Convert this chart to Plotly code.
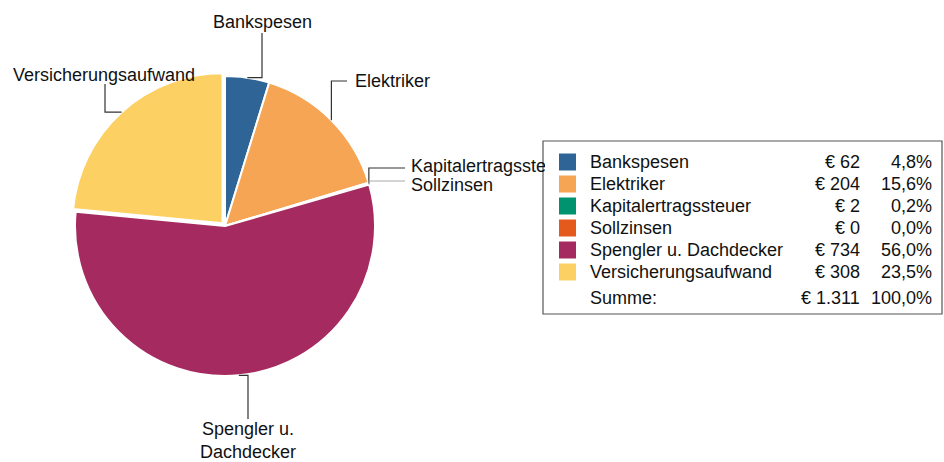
import math
import plotly.graph_objects as go

# ---------------- data ----------------
categories = ["Bankspesen", "Elektriker", "Kapitalertragssteuer", "Sollzinsen",
              "Spengler u. Dachdecker", "Versicherungsaufwand"]
pie_labels = ["Bankspesen", "Elektriker", "Kapitalertragssteuer", "Sollzinsen",
              "Spengler u.<br>Dachdecker", "Versicherungsaufwand"]
amounts = [62.4, 204.3, 2.3, 0.4, 733.9, 307.9]
colors = ["#2F6497", "#F5A553", "#00936F", "#E45A1C", "#A52A60", "#FDD063"]
pulls = [0, 0, 0, 0, 0, 0.025]

# ---------------- layout constants (pixels) ----------------
W, H = 944, 462
CX, CY, R = 225, 226, 150
FONT = "Liberation Sans, Arial, sans-serif"
FS = 18

def px(x):
    return x / W

def py(y):
    return 1 - y / H

total = sum(amounts)

def de_num(v, dec=0):
    s = f"{v:,.{dec}f}"
    return s.replace(",", "X").replace(".", ",").replace("X", ".")

# ---- pie ----
maxpull = max(pulls)
half = R * (1 + maxpull)
fig = go.Figure()
fig.add_trace(go.Pie(
    labels=categories, values=amounts, sort=False, direction="clockwise",
    marker=dict(colors=colors, line=dict(color="white", width=2)),
    pull=pulls, textinfo="none", hoverinfo="label+value+percent",
    domain=dict(x=[px(CX - half), px(CX + half)], y=[py(CY + half), py(CY - half)]),
    showlegend=False,
))

# ---- label placement (elbow style, label anchor) ----
label_layout = [
    dict(elbow="hv", end=(262, 33), text=(262, 22), xanchor="center", line="#333333"),
    dict(elbow="vh", end=(347, 81), text=(353, 81), xanchor="left", line="#333333"),
    dict(elbow="vh", end=(405, 168), text=(409, 166), xanchor="left", line="#333333", clip=134),
    dict(elbow="vh", end=(405, 181), text=(409, 185), xanchor="left", line="#AAAAAA"),
    dict(elbow="hv", end=(248, 419), text=(248, 440), xanchor="center", line="#333333"),
    dict(elbow="hv", end=(105, 84), text=(104, 75), xanchor="center", line="#333333"),
]

shapes = []
annotations = []
cum = 0.0
for i, v in enumerate(amounts):
    mid = (cum + v / 2) / total
    cum += v
    th = 2 * math.pi * mid
    ox = CX + R * pulls[i] * math.sin(th)
    oy = CY - R * pulls[i] * math.cos(th)
    ax = ox + R * math.sin(th)
    ay = oy - R * math.cos(th)
    L = label_layout[i]
    ex, ey = L["end"]
    if L["elbow"] == "hv":
        cx_, cy_ = ex, ay
    else:
        cx_, cy_ = ax, ey
    path = f"M {px(ax)} {py(ay)} L {px(cx_)} {py(cy_)} L {px(ex)} {py(ey)}"
    shapes.append(dict(type="path", path=path, xref="paper", yref="paper",
                       line=dict(color=L["line"], width=1.2)))
    tx, ty = L["text"]
    ann = dict(x=px(tx), y=py(ty), xref="paper", yref="paper", text=pie_labels[i],
               showarrow=False, xanchor=L["xanchor"], yanchor="middle",
               align="center" if L["xanchor"] == "center" else "left",
               font=dict(family=FONT, size=FS, color="#111111"))
    if "clip" in L:
        ann["width"] = L["clip"]
    annotations.append(ann)

# ---- legend table ----
BOX = (543, 141, 942, 314)
shapes.append(dict(type="rect", xref="paper", yref="paper",
                   x0=px(BOX[0]), x1=px(BOX[2]), y0=py(BOX[3]), y1=py(BOX[1]),
                   line=dict(color="#555555", width=1.2), fillcolor="white", layer="above"))
ROW0, ROWH = 162, 22
SW_X0, SW_SZ = 559, 17
NAME_X, AMT_X, PCT_X = 588, 862, 934
for i, name in enumerate(categories):
    yc = ROW0 + i * ROWH
    shapes.append(dict(type="rect", xref="paper", yref="paper",
                       x0=px(SW_X0), x1=px(SW_X0 + SW_SZ),
                       y0=py(yc + SW_SZ / 2), y1=py(yc - SW_SZ / 2),
                       line=dict(width=0), fillcolor=colors[i], layer="above"))
    pct = amounts[i] / total * 100
    for x, txt, anc in [(NAME_X, name, "left"),
                        (AMT_X, "€ " + de_num(amounts[i]), "right"),
                        (PCT_X, de_num(pct, 1) + "%", "right")]:
        annotations.append(dict(x=px(x), y=py(yc), xref="paper", yref="paper", text=txt,
                                showarrow=False, xanchor=anc, yanchor="middle",
                                font=dict(family=FONT, size=FS, color="#111111")))
ys = ROW0 + len(categories) * ROWH + 4
for x, txt, anc in [(NAME_X, "Summe:", "left"),
                    (AMT_X, "€ " + de_num(total), "right"),
                    (PCT_X, de_num(100, 1) + "%", "right")]:
    annotations.append(dict(x=px(x), y=py(ys), xref="paper", yref="paper", text=txt,
                            showarrow=False, xanchor=anc, yanchor="middle",
                            font=dict(family=FONT, size=FS, color="#111111")))

fig.update_layout(
    width=W, height=H, margin=dict(l=0, r=0, t=0, b=0),
    paper_bgcolor="white", plot_bgcolor="white",
    shapes=shapes, annotations=annotations, showlegend=False,
)
fig.write_html("out.html", config={"displayModeBar": False},
               post_script="document.body.style.margin='0';document.body.style.overflow='hidden';")
